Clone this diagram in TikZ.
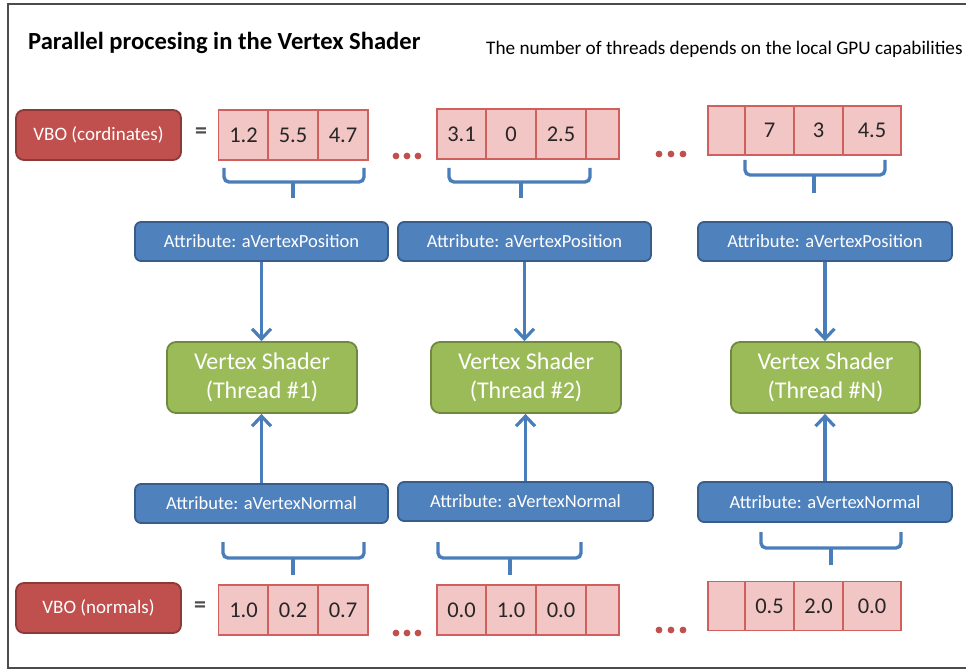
\documentclass[tikz,border=0pt]{standalone}
\usepackage{fontspec}
\setmainfont{Carlito}
\usetikzlibrary{arrows.meta}
\definecolor{vboRed}{HTML}{C0504D}
\definecolor{vboRedDark}{HTML}{8C3A38}
\definecolor{cellFill}{HTML}{F2C6C5}
\definecolor{cellLine}{HTML}{D0605D}
\definecolor{attrBlue}{HTML}{4F81BD}
\definecolor{attrBlueDark}{HTML}{385D8A}
\definecolor{lineBlue}{HTML}{4A7EBB}
\definecolor{vsGreen}{HTML}{9BBB59}
\definecolor{vsGreenDark}{HTML}{71893F}
\tikzset{
  vbobox/.style={draw=vboRedDark, fill=vboRed, line width=1.8pt, rounded corners=8pt,
    minimum width=165pt, minimum height=50pt, inner sep=0pt, text=white, font=\fontsize{19}{22}\selectfont},
  cellbox/.style={draw=cellLine, fill=cellFill, line width=1.8pt, inner sep=0pt,
    minimum height=50pt, font=\fontsize{22.5}{24}\selectfont, text=black!85},
  attrbox/.style={draw=attrBlueDark, fill=attrBlue, line width=1.8pt, rounded corners=6pt,
    minimum width=253pt, minimum height=39pt, inner sep=0pt, text=white, font=\fontsize{18.5}{22}\selectfont},
  vsbox/.style={draw=vsGreenDark, fill=vsGreen, line width=1.8pt, rounded corners=9pt,
    minimum width=190pt, minimum height=71pt, inner sep=0pt, text=white, align=center,
    font=\fontsize{24}{29}\selectfont},
  flow/.style={draw=lineBlue, line width=3.4pt, -{Straight Barb[length=10pt,width=19pt,line width=3.2pt]}},
  bracepath/.style={draw=lineBlue, line width=3.4pt, rounded corners=5pt},
  bracetick/.style={draw=lineBlue, line width=3.4pt},
  dotmark/.style={fill=vboRed, draw=none},
  eqsign/.style={font=\fontsize{24}{26}\selectfont\bfseries, text=black!70},
}
\begin{document}
\begin{tikzpicture}[x=1pt,y=-1pt]
\useasboundingbox (0,0) rectangle (966,671);
\fill[white] (0,0) rectangle (966,671);
\draw[black!70, line width=1.3pt] (970,4) -- (8,4) -- (8,668) -- (970,668);

% titles
\node[anchor=base west, inner sep=0pt, font=\fontsize{24.6}{28}\selectfont\bfseries] (title) at (28,50) {Parallel procesing in the Vertex Shader};
\node[anchor=base west, inner sep=0pt, font=\fontsize{19.2}{22}\selectfont] (subtitle) at (486,55) {The number of threads depends on the local GPU capabilities};

% VBO labels
\node[vbobox] (vboc) at (98.5,135) {VBO (cordinates)};
\node[eqsign] (eqc) at (201,133) {=};
\node[vbobox] (vbon) at (98.5,608) {VBO (normals)};
\node[eqsign] (eqn) at (200,607) {=};

% top arrays
\node[cellbox, minimum width=50pt] (t11) at (243.5,135) {1.2};
\node[cellbox, minimum width=50pt] (t12) at (293,135) {5.5};
\node[cellbox, minimum width=50pt] (t13) at (343,135) {4.7};

\node[cellbox, minimum width=49pt] (t21) at (461.5,134) {3.1};
\node[cellbox, minimum width=50pt] (t22) at (511,134) {0};
\node[cellbox, minimum width=50pt] (t23) at (561,134) {2.5};
\node[cellbox, minimum width=33pt] (t24) at (602.5,134) {};

\node[cellbox, minimum width=37pt, minimum height=49pt] (t31) at (726.5,130.5) {};
\node[cellbox, minimum width=49pt, minimum height=49pt] (t32) at (769.5,130.5) {7};
\node[cellbox, minimum width=49pt, minimum height=49pt] (t33) at (818.5,130.5) {3};
\node[cellbox, minimum width=58pt, minimum height=49pt] (t34) at (872,130.5) {4.5};

% bottom arrays
\node[cellbox, minimum width=50pt] (b11) at (243.5,610) {1.0};
\node[cellbox, minimum width=50pt] (b12) at (293,610) {0.2};
\node[cellbox, minimum width=50pt] (b13) at (343,610) {0.7};

\node[cellbox, minimum width=49pt] (b21) at (461.5,610) {0.0};
\node[cellbox, minimum width=50pt] (b22) at (511,610) {1.0};
\node[cellbox, minimum width=50pt] (b23) at (561,610) {0.0};
\node[cellbox, minimum width=33pt] (b24) at (602.5,610) {};

\node[cellbox, minimum width=37pt, minimum height=49pt] (b31) at (726.5,606) {};
\node[cellbox, minimum width=49pt, minimum height=49pt] (b32) at (769.5,606) {0.5};
\node[cellbox, minimum width=49pt, minimum height=49pt] (b33) at (818.5,606) {2.0};
\node[cellbox, minimum width=58pt, minimum height=49pt] (b34) at (872,606) {0.0};

% dots
\foreach \x in {396,407,418} {
  \fill[dotmark] (\x,156) circle (3.4pt);
  \fill[dotmark] (\x,633) circle (3.4pt);
}
\foreach \x in {659,671,683} {
  \fill[dotmark] (\x,154) circle (3.4pt);
  \fill[dotmark] (\x,630) circle (3.4pt);
}

% braces top
\draw[bracepath] (224,168) -- (224,182) -- (364,182) -- (364,168);
\draw[bracetick] (293,181) -- (293,198);
\draw[bracepath] (449,168) -- (449,182) -- (590,182) -- (590,168);
\draw[bracetick] (521,181) -- (521,198);
\draw[bracepath] (745,160) -- (745,175) -- (885,175) -- (885,160);
\draw[bracetick] (814,174) -- (814,193);

% braces bottom
\draw[bracepath] (223,542) -- (223,558) -- (364,558) -- (364,542);
\draw[bracetick] (293,557) -- (293,575);
\draw[bracepath] (438,542) -- (438,558) -- (581,558) -- (581,542);
\draw[bracetick] (510,557) -- (510,575);
\draw[bracepath] (761,532) -- (761,548) -- (901,548) -- (901,532);
\draw[bracetick] (831,547) -- (831,565);

% attribute boxes
\node[attrbox] (ap1) at (261.5,241.5) {Attribute: aVertexPosition};
\node[attrbox] (ap2) at (524.5,241.5) {Attribute: aVertexPosition};
\node[attrbox, minimum width=254pt] (ap3) at (825,241.5) {Attribute: aVertexPosition};

\node[attrbox] (an1) at (261.5,503.5) {Attribute: aVertexNormal};
\node[attrbox, minimum width=255pt] (an2) at (525.5,501.5) {Attribute: aVertexNormal};
\node[attrbox, minimum width=254pt, minimum height=40pt] (an3) at (825,502) {Attribute: aVertexNormal};

% vertex shader boxes
\node[vsbox] (vs1) at (262,377.5) {Vertex Shader\\(Thread \#1)};
\node[vsbox] (vs2) at (526,377.5) {Vertex Shader\\(Thread \#2)};
\node[vsbox, minimum width=189pt] (vs3) at (825.5,377.5) {Vertex Shader\\(Thread \#N)};

% connectors
\draw[flow] (ap1.south) -- (ap1.south |- vs1.north);
\draw[flow] (ap2.south) -- (ap2.south |- vs2.north);
\draw[flow] (ap3.south) -- (ap3.south |- vs3.north);
\draw[flow] (an1.north) -- (an1.north |- vs1.south);
\draw[flow] (an2.north) -- (an2.north |- vs2.south);
\draw[flow] (an3.north) -- (an3.north |- vs3.south);
\end{tikzpicture}
\end{document}
